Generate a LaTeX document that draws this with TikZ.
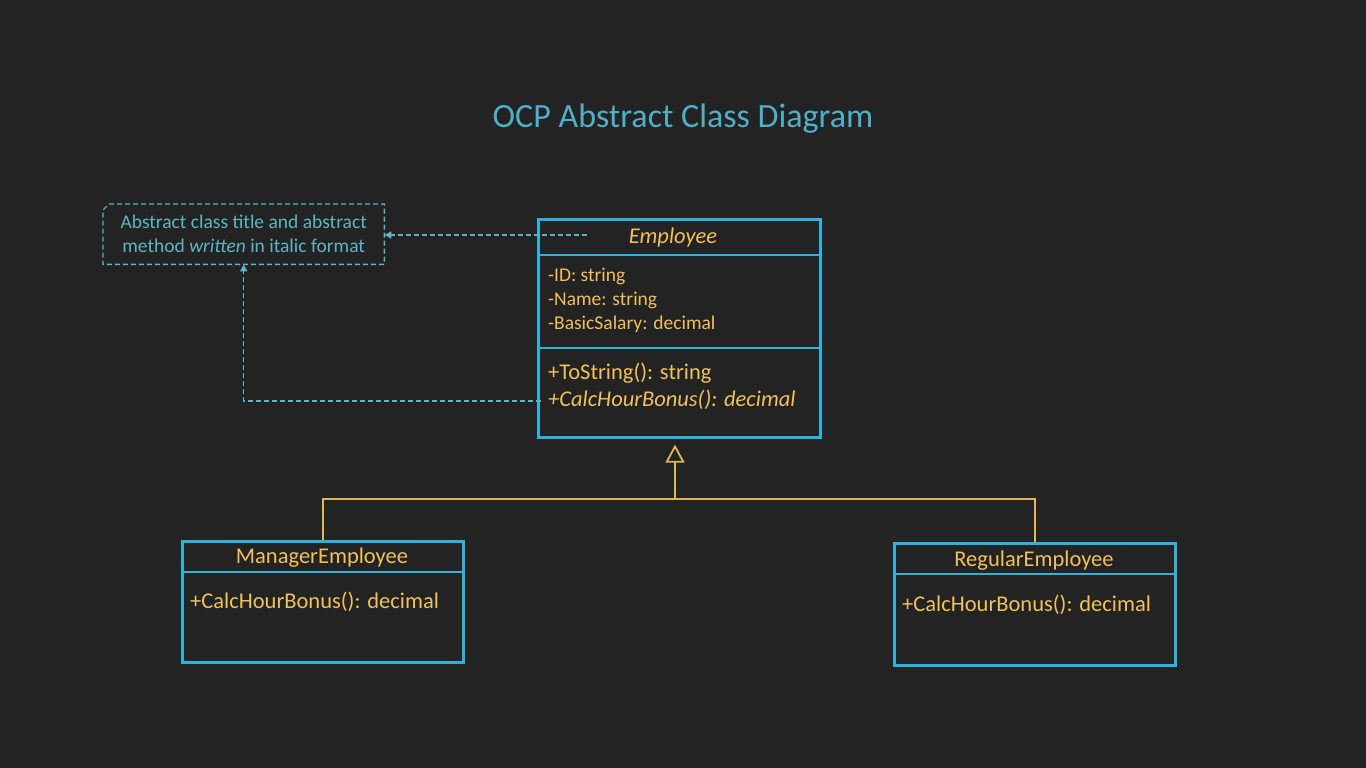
\documentclass[tikz,border=0pt]{standalone}
\usepackage{fontspec}
\setmainfont{Carlito}
\usetikzlibrary{arrows.meta}
\definecolor{bg}{HTML}{232323}
\definecolor{boxc}{HTML}{2DB4DE}
\definecolor{txt}{HTML}{F0C05C}
\definecolor{notec}{HTML}{5BB5C4}
\definecolor{titlec}{HTML}{4FAFC8}
\definecolor{inh}{HTML}{E4B650}
\begin{document}
\begin{tikzpicture}[x=1pt,y=-1pt,
  cls/.style={draw=boxc, line width=2.6pt, inner sep=0pt, anchor=north west},
  divider/.style={draw=boxc, line width=2pt},
  hdr/.style={text=txt, font=\fontsize{22.5}{27}\selectfont, inner sep=0pt},
  attr/.style={text=txt, font=\fontsize{19.5}{23}\selectfont, inner sep=0pt, anchor=west},
  meth/.style={text=txt, font=\fontsize{22.5}{27}\selectfont, inner sep=0pt, anchor=west},
  notebox/.style={text=notec, font=\fontsize{19.5}{24}\selectfont, align=center, inner sep=0pt, minimum width=281pt, minimum height=60pt, anchor=north west},
  notearrow/.style={draw=notec, line width=1.4pt, dash pattern=on 5pt off 3pt, -{Triangle[width=7pt,length=7pt]}},
  inhline/.style={draw=inh, line width=1.8pt}
]
\fill[bg] (0,0) rectangle (1366,768);
\useasboundingbox (0,0) rectangle (1366,768);

% title
\node[text=titlec, font=\fontsize{34}{40}\selectfont, inner sep=0pt] (title) at (683,119) {OCP Abstract Class Diagram};

% Employee class
\node[cls, minimum width=282pt, minimum height=218pt] (emp) at (537,218) {};
\draw[divider] (emp.west |- 0,255) -- (emp.east |- 0,255);
\draw[divider] (emp.west |- 0,348) -- (emp.east |- 0,348);
\node[hdr, font=\fontsize{22.5}{27}\selectfont\itshape] (empname) at (673,237) {Employee};
\node[attr] (a1) at (548,276) {-ID: string};
\node[attr] (a2) at (548,300) {-Name: string};
\node[attr] (a3) at (548,324) {-BasicSalary: decimal};
\node[meth] (m1) at (548,373) {+ToString(): string};
\node[meth, font=\fontsize{22.5}{27}\selectfont\itshape] (m2) at (548,400) {+CalcHourBonus(): decimal};

% Manager
\node[cls, minimum width=281pt, minimum height=121pt] (mgr) at (181,540) {};
\draw[divider] (mgr.west |- 0,572) -- (mgr.east |- 0,572);
\node[hdr] (mgrname) at (322,558) {ManagerEmployee};
\node[meth] (mgrm) at (190,602) {+CalcHourBonus(): decimal};

% Regular
\node[cls, minimum width=281pt, minimum height=122pt] (reg) at (893,542) {};
\draw[divider] (reg.west |- 0,574) -- (reg.east |- 0,574);
\node[hdr] (regname) at (1034,561) {RegularEmployee};
\node[meth] (regm) at (902,605) {+CalcHourBonus(): decimal};

% note
\node[notebox] (note) at (103,204) {\raisebox{0pt}[0pt][0pt]{}\rule{0pt}{0pt}Abstract class title and abstract\\method \textit{written} in italic format};
\draw[notec, line width=1.4pt, dash pattern=on 5pt off 3pt]
  ([xshift=6pt]note.north west) -- (note.north east) -- (note.south east) -- (note.south west) -- ([yshift=-6pt]note.north west) -- cycle;

% note connectors
\coordinate (c1) at (587,235);
\coordinate (c2) at (541,401);
\draw[notearrow] (c1) -- (note.east |- c1);
\draw[notearrow] (c2) -| (note.south);

% inheritance
\coordinate (j) at (675,499);
\draw[inhline] (mgr.north) |- (j) -| (reg.north);
\draw[inhline, -{Triangle[open, width=19pt, length=18pt, line width=1.8pt]}, shorten >=6pt] (j) -- (j |- emp.south);
\end{tikzpicture}
\end{document}
